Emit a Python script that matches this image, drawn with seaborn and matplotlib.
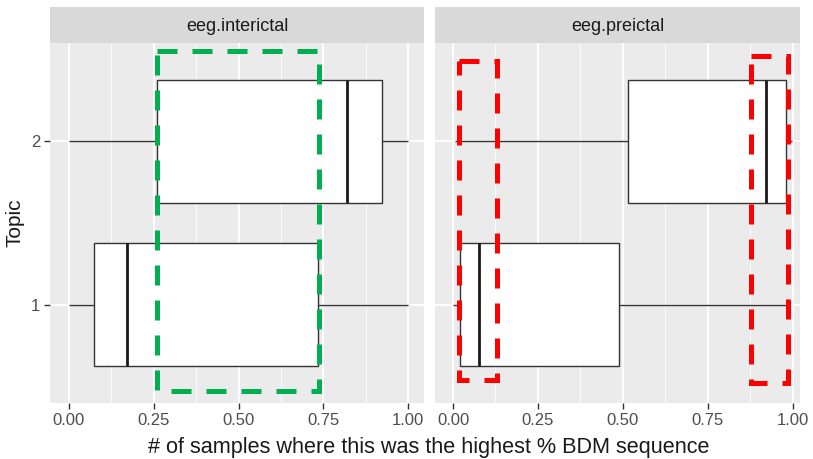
import matplotlib
matplotlib.use("Agg")
import matplotlib.pyplot as plt
from matplotlib.patches import Rectangle
from matplotlib.ticker import MultipleLocator
import seaborn as sns
import pandas as pd

# ---- data (five-number summaries) ----
panels = ["eeg.interictal", "eeg.preictal"]
topics = ["2", "1"]
interictal_topic2 = [0.00, 0.26, 0.819, 0.922, 1.00]
interictal_topic1 = [0.00, 0.074, 0.172, 0.735, 1.00]
preictal_topic2 = [0.005, 0.514, 0.922, 0.981, 0.996]
preictal_topic1 = [0.00, 0.021, 0.075, 0.488, 0.984]
x_ticks = [0.0, 0.25, 0.5, 0.75, 1.0]
x_tick_labels = ["0.00", "0.25", "0.50", "0.75", "1.00"]

# highlight boxes: (x0, x1, y_top, y_bottom) in data coordinates
green_boxes = [(0.259, 0.737, -0.554, 1.528)]
red_boxes = [(0.018, 0.128, -0.493, 1.46), (0.876, 0.987, -0.523, 1.48)]

rows = []
for panel, series in [("eeg.interictal", {"2": interictal_topic2, "1": interictal_topic1}),
                      ("eeg.preictal", {"2": preictal_topic2, "1": preictal_topic1})]:
    for t, vals in series.items():
        for v in vals:
            rows.append({"panel": panel, "topic": t, "value": v})
df = pd.DataFrame(rows)

sns.set_style("white")
plt.rcParams["font.family"] = ["Liberation Sans", "DejaVu Sans"]

W, H = 813, 459
fig = plt.figure(figsize=(W / 100, H / 100), dpi=100)

panel_px = {"eeg.interictal": (50, 424, -0.056, 1.047),
            "eeg.preictal": (435, 800, -0.053, 1.021)}
top_strip, bot_strip, bot_panel = 7, 43, 403

highlight = {"eeg.interictal": [(b, "#00B050") for b in green_boxes],
             "eeg.preictal": [(b, "#FF0000") for b in red_boxes]}

for i, panel in enumerate(panels):
    x0, x1, xl0, xl1 = panel_px[panel]
    ax = fig.add_axes([x0 / W, 1 - bot_panel / H, (x1 - x0) / W, (bot_panel - bot_strip) / H])
    sax = fig.add_axes([x0 / W, 1 - bot_strip / H, (x1 - x0) / W, (bot_strip - top_strip) / H])
    sax.set_facecolor("#D9D9D9")
    sax.set_xticks([]); sax.set_yticks([])
    for s in sax.spines.values():
        s.set_visible(False)
    sax.text(0.5, 0.47, panel, ha="center", va="center", fontsize=13, color="#1A1A1A",
             transform=sax.transAxes)

    ax.set_facecolor("#EBEBEB")
    sub = df[df["panel"] == panel]
    sns.boxplot(data=sub, x="value", y="topic", order=topics, orient="h",
                whis=(0, 100), width=0.75, color="white", linecolor="#333333",
                linewidth=1.0, showcaps=False,
                medianprops=dict(linewidth=2.0, color="#1A1A1A"),
                ax=ax, zorder=3)
    ax.set_xlim(xl0, xl1)
    ax.set_ylim(1.6, -0.6)
    ax.set_xticks(x_ticks)
    ax.set_xticklabels(x_tick_labels)
    ax.xaxis.set_minor_locator(MultipleLocator(0.125))
    ax.grid(True, which="major", color="white", linewidth=1.3, zorder=0)
    ax.grid(True, which="minor", axis="x", color="white", linewidth=0.6, zorder=0)
    ax.set_axisbelow(True)
    for s in ax.spines.values():
        s.set_visible(False)
    ax.tick_params(axis="both", which="major", length=4, width=1.0, color="#333333",
                   labelcolor="#4D4D4D", labelsize=12, pad=3, left=True, bottom=True)
    ax.tick_params(axis="both", which="minor", length=0)
    ax.set_xlabel("")
    ax.set_ylabel("")
    if i == 0:
        ax.set_ylabel("Topic", fontsize=15, color="#1A1A1A")
        ax.yaxis.set_label_coords(-(50 - 25) / (x1 - x0), 0.5)
    else:
        ax.tick_params(axis="y", left=False, labelleft=False)

    for (bx0, bx1, by0, by1), col in highlight[panel]:
        ax.add_patch(Rectangle((bx0, by0), bx1 - bx0, by1 - by0, fill=False,
                               edgecolor=col, linewidth=3.6, linestyle=(0, (4, 3)),
                               zorder=6, clip_on=False))

fig.text(429 / W, 1 - 447 / H,
         "# of samples where this was the highest % BDM sequence",
         ha="center", va="center", fontsize=15.6, color="#1A1A1A")

fig.savefig("out.png", dpi=100, facecolor="white")
